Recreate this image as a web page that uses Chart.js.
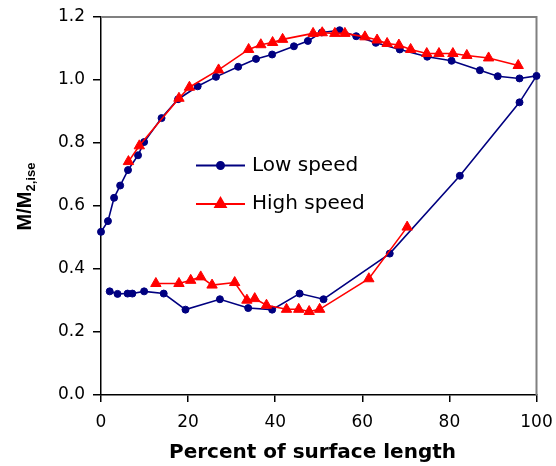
<!DOCTYPE html>
<html>
<head>
<meta charset="utf-8">
<script src="https://cdn.jsdelivr.net/npm/chart.js@4/dist/chart.umd.min.js"></script>
<style>
  html, body { margin: 0; padding: 0; background: #fff; }
  #wrap { width: 556px; height: 466px; position: relative; }
</style>
</head>
<body>
<div id="wrap"><canvas id="c" width="556" height="466"></canvas></div>
<script>
// Low speed: leading edge -> upper surface -> trailing edge -> lower surface
const lowX = [0, 1.6, 3.0, 4.4, 6.2, 8.5, 9.9, 13.9, 17.7, 22.2, 26.4, 31.5, 35.6, 39.3, 44.3, 47.5, 50.7, 54.8, 58.6, 63.1, 68.6, 74.9, 80.5, 87.0, 91.1, 96.1, 100, 96.1, 82.4, 66.3, 51.1, 45.6, 39.3, 33.8, 27.3, 19.4, 14.4, 9.9, 7.2, 6.1, 3.8, 2.0];
const lowY = [0.518, 0.552, 0.626, 0.665, 0.714, 0.761, 0.803, 0.879, 0.939, 0.980, 1.010, 1.042, 1.067, 1.081, 1.107, 1.124, 1.151, 1.158, 1.139, 1.118, 1.097, 1.074, 1.061, 1.031, 1.012, 1.005, 1.013, 0.929, 0.696, 0.449, 0.304, 0.322, 0.271, 0.276, 0.304, 0.271, 0.322, 0.329, 0.322, 0.322, 0.321, 0.329];
// High speed: upper surface, gap, lower surface
const highX = [6.3, 8.8, 17.9, 20.3, 27.0, 33.9, 36.7, 39.4, 41.7, 48.7, 50.8, 53.7, 56.0, 60.6, 63.4, 65.7, 68.4, 71.1, 74.8, 77.6, 80.8, 84.0, 89.0, 95.8,
               null,
               12.6, 17.9, 20.6, 22.9, 25.5, 30.7, 33.5, 35.3, 38.0, 42.6, 45.4, 47.8, 50.2, 61.5, 70.3];
const highY = [0.741, 0.791, 0.942, 0.977, 1.032, 1.097, 1.112, 1.119, 1.129, 1.148, 1.150, 1.148, 1.148, 1.137, 1.127, 1.116, 1.111, 1.097, 1.084, 1.084, 1.084, 1.078, 1.070, 1.046,
               null,
               0.354, 0.354, 0.364, 0.375, 0.349, 0.357, 0.301, 0.306, 0.285, 0.272, 0.272, 0.265, 0.272, 0.369, 0.533];
const xTicks = [0, 20, 40, 60, 80, 100];
const yTicks = [0.0, 0.2, 0.4, 0.6, 0.8, 1.0, 1.2];
const seriesNames = ['Low speed', 'High speed'];
const xTitle = 'Percent of surface length';
const yTitleMain = 'M/M';
const yTitleSub = '2,ise';

const LOW_COLOR = '#000080';
const HIGH_COLOR = '#FF0000';

const lowData = lowX.map((x, i) => ({ x: x, y: lowY[i] }));
const highData = highX.map((x, i) => ({ x: x, y: highY[i] }));

Chart.defaults.font.family = 'DejaVu Sans';
Chart.defaults.color = '#000';

const decorPlugin = {
  id: 'decor',
  beforeDatasetsDraw(chart) {
    const { ctx, chartArea: a } = chart;
    ctx.save();
    ctx.strokeStyle = '#808080';
    ctx.lineWidth = 2;
    ctx.beginPath();
    ctx.moveTo(a.left, a.top);
    ctx.lineTo(a.right, a.top);
    ctx.lineTo(a.right, a.bottom);
    ctx.stroke();
    ctx.restore();
  },
  afterDraw(chart) {
    const { ctx } = chart;
    ctx.save();
    // x title
    ctx.fillStyle = '#000';
    ctx.font = 'bold 20px "DejaVu Sans"';
    ctx.textAlign = 'center';
    ctx.textBaseline = 'alphabetic';
    ctx.fillText(xTitle, 312.5, 458);
    // y title with subscript
    ctx.translate(31, 196.5);
    ctx.rotate(-Math.PI / 2);
    ctx.font = 'bold 20px "Liberation Sans"';
    const wMain = ctx.measureText(yTitleMain).width;
    ctx.font = 'bold 13px "Liberation Sans"';
    const wSub = ctx.measureText(yTitleSub).width;
    const start = -(wMain + wSub) / 2;
    ctx.textAlign = 'left';
    ctx.font = 'bold 20px "Liberation Sans"';
    ctx.fillText(yTitleMain, start, 0);
    ctx.font = 'bold 13px "Liberation Sans"';
    ctx.fillText(yTitleSub, start + wMain, 4);
    ctx.restore();

    // legend inside the plot
    const items = [
      { name: seriesNames[0], color: LOW_COLOR, style: 'circle', r: 3.5, y: 165.5 },
      { name: seriesNames[1], color: HIGH_COLOR, style: 'triangle', r: 6, y: 204 }
    ];
    ctx.save();
    items.forEach(it => {
      ctx.strokeStyle = it.color;
      ctx.lineWidth = 2;
      ctx.beginPath();
      ctx.moveTo(196, it.y);
      ctx.lineTo(245, it.y);
      ctx.stroke();
      Chart.helpers.drawPoint(ctx, {
        pointStyle: it.style, radius: it.r, borderWidth: 1, rotation: 0
      }, 220.5, it.y);
      ctx.fillStyle = it.color;
      ctx.fill();
      ctx.fillStyle = '#000';
      ctx.font = '20px "DejaVu Sans"';
      ctx.textAlign = 'left';
      ctx.textBaseline = 'middle';
      ctx.fillText(it.name, 252, it.y);
    });
    ctx.restore();
  }
};

new Chart(document.getElementById('c'), {
  type: 'scatter',
  data: {
    datasets: [
      {
        label: seriesNames[0],
        data: lowData,
        showLine: true,
        borderColor: LOW_COLOR,
        backgroundColor: LOW_COLOR,
        pointBackgroundColor: LOW_COLOR,
        pointBorderColor: LOW_COLOR,
        pointRadius: 3.5,
        pointBorderWidth: 1,
        borderWidth: 1.6,
        clip: false,
        order: 2
      },
      {
        label: seriesNames[1],
        data: highData,
        showLine: true,
        spanGaps: false,
        borderColor: HIGH_COLOR,
        backgroundColor: HIGH_COLOR,
        pointBackgroundColor: HIGH_COLOR,
        pointBorderColor: HIGH_COLOR,
        pointStyle: 'triangle',
        pointRadius: 6,
        pointBorderWidth: 1,
        borderWidth: 1.6,
        clip: false,
        order: 1
      }
    ]
  },
  options: {
    responsive: false,
    animation: false,
    events: [],
    layout: { padding: { left: 0, top: 17, right: 19.5, bottom: 0 } },
    plugins: {
      legend: { display: false },
      tooltip: { enabled: false },
      title: { display: false }
    },
    scales: {
      x: {
        type: 'linear',
        min: 0, max: 100,
        afterBuildTicks(scale) { scale.ticks = xTicks.map(v => ({ value: v })); },
        afterFit(scale) { scale.height = 71; scale.paddingLeft = 0; scale.paddingRight = 0; },
        ticks: { font: { size: 17 }, color: '#000', padding: 10, maxRotation: 0 },
        grid: { drawOnChartArea: false, tickLength: 7, color: '#000', lineWidth: 1.5 },
        border: { color: '#000', width: 1.5 }
      },
      y: {
        type: 'linear',
        min: 0, max: 1.2,
        afterBuildTicks(scale) { scale.ticks = yTicks.map(v => ({ value: v })); },
        afterFit(scale) { scale.width = 101; scale.paddingTop = 0; scale.paddingBottom = 0; },
        ticks: { font: { size: 17 }, color: '#000', padding: 8, callback: v => Number(v).toFixed(1) },
        grid: { drawOnChartArea: false, tickLength: 8, color: '#000', lineWidth: 1.5 },
        border: { color: '#000', width: 1.5 }
      }
    }
  },
  plugins: [decorPlugin]
});
</script>
</body>
</html>
